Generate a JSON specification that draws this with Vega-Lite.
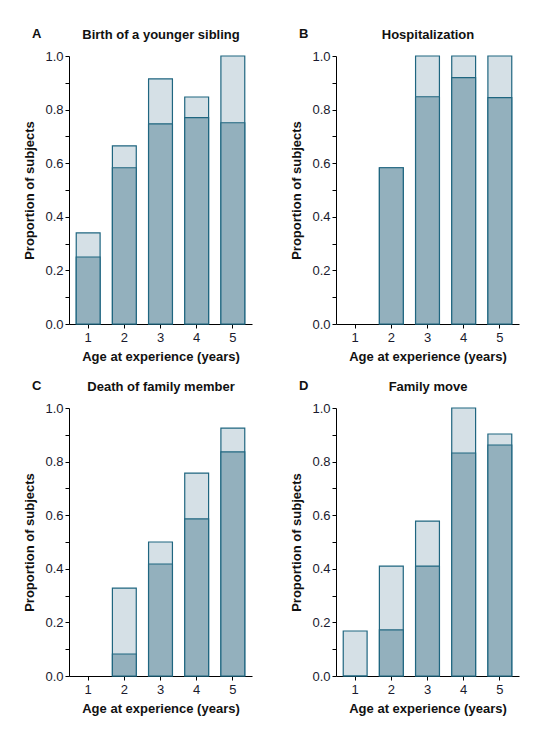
{
  "$schema": "https://vega.github.io/schema/vega-lite/v6.json",
  "background": "white",
  "padding": {"left": 23, "top": 28, "right": 5, "bottom": 5},
  "data": {"values": [
    {"panel": "A", "age": 1, "dark": 0.25, "total": 0.34},
    {"panel": "A", "age": 2, "dark": 0.583, "total": 0.665},
    {"panel": "A", "age": 3, "dark": 0.747, "total": 0.915},
    {"panel": "A", "age": 4, "dark": 0.77, "total": 0.847},
    {"panel": "A", "age": 5, "dark": 0.751, "total": 1.0},
    {"panel": "B", "age": 2, "dark": 0.583, "total": 0.583},
    {"panel": "B", "age": 3, "dark": 0.848, "total": 1.0},
    {"panel": "B", "age": 4, "dark": 0.919, "total": 1.0},
    {"panel": "B", "age": 5, "dark": 0.845, "total": 1.0},
    {"panel": "C", "age": 2, "dark": 0.082, "total": 0.328},
    {"panel": "C", "age": 3, "dark": 0.418, "total": 0.5},
    {"panel": "C", "age": 4, "dark": 0.586, "total": 0.757},
    {"panel": "C", "age": 5, "dark": 0.836, "total": 0.925},
    {"panel": "D", "age": 1, "dark": 0, "total": 0.168},
    {"panel": "D", "age": 2, "dark": 0.172, "total": 0.41},
    {"panel": "D", "age": 3, "dark": 0.41, "total": 0.578},
    {"panel": "D", "age": 4, "dark": 0.832, "total": 1.0},
    {"panel": "D", "age": 5, "dark": 0.862, "total": 0.903}
  ]},
  "columns": 2,
  "spacing": {"row": 17, "column": 38},
  "concat": [
    {
      "title": {"text": "A", "anchor": "start", "frame": "bounds", "dx": 8, "dy": 13, "offset": 0},
      "width": 183, "height": 268,
      "transform": [{"filter": "datum.panel == 'A'"}],
      "layer": [
        {"mark": {"type": "bar", "fill": "#d5e0e6", "stroke": "#1f6680", "strokeWidth": 1.2},
         "encoding": {
           "x": {"field": "age", "type": "ordinal", "scale": {"domain": [1, 2, 3, 4, 5], "paddingInner": 0.34, "paddingOuter": 0.2}, "axis": {"title": "Age at experience (years)", "labelAngle": 0, "tickSize": 4, "labelPadding": 3, "titlePadding": 6}},
           "y": {"field": "total", "type": "quantitative", "scale": {"domain": [0, 1], "nice": false}, "axis": {"title": "Proportion of subjects", "values": [0, 0.1, 0.2, 0.3, 0.4, 0.5, 0.6, 0.7, 0.8, 0.9, 1.0], "labelExpr": "round(datum.value*10) % 2 == 0 ? format(datum.value, '.1f') : ''", "tickSize": 4, "labelPadding": 2, "titlePadding": 8}}
         }},
        {"mark": {"type": "bar", "fill": "#93b0bd", "stroke": "#1f6680", "strokeWidth": 1.2},
         "encoding": {
           "x": {"field": "age", "type": "ordinal", "scale": {"domain": [1, 2, 3, 4, 5], "paddingInner": 0.34, "paddingOuter": 0.2}, "axis": {"orient": "top", "title": "Birth of a younger sibling", "labels": false, "ticks": false, "domain": false, "titlePadding": 15}},
           "y": {"field": "dark", "type": "quantitative", "scale": {"domain": [0, 1], "nice": false}, "axis": {"title": "Proportion of subjects", "values": [0, 0.1, 0.2, 0.3, 0.4, 0.5, 0.6, 0.7, 0.8, 0.9, 1.0], "labelExpr": "round(datum.value*10) % 2 == 0 ? format(datum.value, '.1f') : ''", "tickSize": 4, "labelPadding": 2, "titlePadding": 8}}
         }}
      ],
      "resolve": {"axis": {"x": "independent"}}
    },
    {
      "title": {"text": "B", "anchor": "start", "frame": "bounds", "dx": 8, "dy": 13, "offset": 0},
      "width": 183, "height": 268,
      "transform": [{"filter": "datum.panel == 'B'"}],
      "layer": [
        {"mark": {"type": "bar", "fill": "#d5e0e6", "stroke": "#1f6680", "strokeWidth": 1.2},
         "encoding": {
           "x": {"field": "age", "type": "ordinal", "scale": {"domain": [1, 2, 3, 4, 5], "paddingInner": 0.34, "paddingOuter": 0.2}, "axis": {"title": "Age at experience (years)", "labelAngle": 0, "tickSize": 4, "labelPadding": 3, "titlePadding": 6}},
           "y": {"field": "total", "type": "quantitative", "scale": {"domain": [0, 1], "nice": false}, "axis": {"title": "Proportion of subjects", "values": [0, 0.1, 0.2, 0.3, 0.4, 0.5, 0.6, 0.7, 0.8, 0.9, 1.0], "labelExpr": "round(datum.value*10) % 2 == 0 ? format(datum.value, '.1f') : ''", "tickSize": 4, "labelPadding": 2, "titlePadding": 8}}
         }},
        {"mark": {"type": "bar", "fill": "#93b0bd", "stroke": "#1f6680", "strokeWidth": 1.2},
         "encoding": {
           "x": {"field": "age", "type": "ordinal", "scale": {"domain": [1, 2, 3, 4, 5], "paddingInner": 0.34, "paddingOuter": 0.2}, "axis": {"orient": "top", "title": "Hospitalization", "labels": false, "ticks": false, "domain": false, "titlePadding": 15}},
           "y": {"field": "dark", "type": "quantitative", "scale": {"domain": [0, 1], "nice": false}, "axis": {"title": "Proportion of subjects", "values": [0, 0.1, 0.2, 0.3, 0.4, 0.5, 0.6, 0.7, 0.8, 0.9, 1.0], "labelExpr": "round(datum.value*10) % 2 == 0 ? format(datum.value, '.1f') : ''", "tickSize": 4, "labelPadding": 2, "titlePadding": 8}}
         }}
      ],
      "resolve": {"axis": {"x": "independent"}}
    },
    {
      "title": {"text": "C", "anchor": "start", "frame": "bounds", "dx": 8, "dy": 13, "offset": 0},
      "width": 183, "height": 268,
      "transform": [{"filter": "datum.panel == 'C'"}],
      "layer": [
        {"mark": {"type": "bar", "fill": "#d5e0e6", "stroke": "#1f6680", "strokeWidth": 1.2},
         "encoding": {
           "x": {"field": "age", "type": "ordinal", "scale": {"domain": [1, 2, 3, 4, 5], "paddingInner": 0.34, "paddingOuter": 0.2}, "axis": {"title": "Age at experience (years)", "labelAngle": 0, "tickSize": 4, "labelPadding": 3, "titlePadding": 6}},
           "y": {"field": "total", "type": "quantitative", "scale": {"domain": [0, 1], "nice": false}, "axis": {"title": "Proportion of subjects", "values": [0, 0.1, 0.2, 0.3, 0.4, 0.5, 0.6, 0.7, 0.8, 0.9, 1.0], "labelExpr": "round(datum.value*10) % 2 == 0 ? format(datum.value, '.1f') : ''", "tickSize": 4, "labelPadding": 2, "titlePadding": 8}}
         }},
        {"mark": {"type": "bar", "fill": "#93b0bd", "stroke": "#1f6680", "strokeWidth": 1.2},
         "encoding": {
           "x": {"field": "age", "type": "ordinal", "scale": {"domain": [1, 2, 3, 4, 5], "paddingInner": 0.34, "paddingOuter": 0.2}, "axis": {"orient": "top", "title": "Death of family member", "labels": false, "ticks": false, "domain": false, "titlePadding": 15}},
           "y": {"field": "dark", "type": "quantitative", "scale": {"domain": [0, 1], "nice": false}, "axis": {"title": "Proportion of subjects", "values": [0, 0.1, 0.2, 0.3, 0.4, 0.5, 0.6, 0.7, 0.8, 0.9, 1.0], "labelExpr": "round(datum.value*10) % 2 == 0 ? format(datum.value, '.1f') : ''", "tickSize": 4, "labelPadding": 2, "titlePadding": 8}}
         }}
      ],
      "resolve": {"axis": {"x": "independent"}}
    },
    {
      "title": {"text": "D", "anchor": "start", "frame": "bounds", "dx": 8, "dy": 13, "offset": 0},
      "width": 183, "height": 268,
      "transform": [{"filter": "datum.panel == 'D'"}],
      "layer": [
        {"mark": {"type": "bar", "fill": "#d5e0e6", "stroke": "#1f6680", "strokeWidth": 1.2},
         "encoding": {
           "x": {"field": "age", "type": "ordinal", "scale": {"domain": [1, 2, 3, 4, 5], "paddingInner": 0.34, "paddingOuter": 0.2}, "axis": {"title": "Age at experience (years)", "labelAngle": 0, "tickSize": 4, "labelPadding": 3, "titlePadding": 6}},
           "y": {"field": "total", "type": "quantitative", "scale": {"domain": [0, 1], "nice": false}, "axis": {"title": "Proportion of subjects", "values": [0, 0.1, 0.2, 0.3, 0.4, 0.5, 0.6, 0.7, 0.8, 0.9, 1.0], "labelExpr": "round(datum.value*10) % 2 == 0 ? format(datum.value, '.1f') : ''", "tickSize": 4, "labelPadding": 2, "titlePadding": 8}}
         }},
        {"mark": {"type": "bar", "fill": "#93b0bd", "stroke": "#1f6680", "strokeWidth": 1.2},
         "encoding": {
           "x": {"field": "age", "type": "ordinal", "scale": {"domain": [1, 2, 3, 4, 5], "paddingInner": 0.34, "paddingOuter": 0.2}, "axis": {"orient": "top", "title": "Family move", "labels": false, "ticks": false, "domain": false, "titlePadding": 15}},
           "y": {"field": "dark", "type": "quantitative", "scale": {"domain": [0, 1], "nice": false}, "axis": {"title": "Proportion of subjects", "values": [0, 0.1, 0.2, 0.3, 0.4, 0.5, 0.6, 0.7, 0.8, 0.9, 1.0], "labelExpr": "round(datum.value*10) % 2 == 0 ? format(datum.value, '.1f') : ''", "tickSize": 4, "labelPadding": 2, "titlePadding": 8}}
         }}
      ],
      "resolve": {"axis": {"x": "independent"}}
    }
  ],
  "config": {
    "view": {"stroke": null},
    "axis": {"labelFont": "Liberation Sans", "titleFont": "Liberation Sans", "labelFontSize": 13, "titleFontSize": 13, "titleFontWeight": "bold", "labelColor": "#1a1a2e", "titleColor": "#111111", "domainColor": "#000000", "tickColor": "#000000", "grid": false},
    "title": {"font": "Liberation Sans", "fontSize": 13, "fontWeight": "bold", "color": "#111111"}
  }
}
